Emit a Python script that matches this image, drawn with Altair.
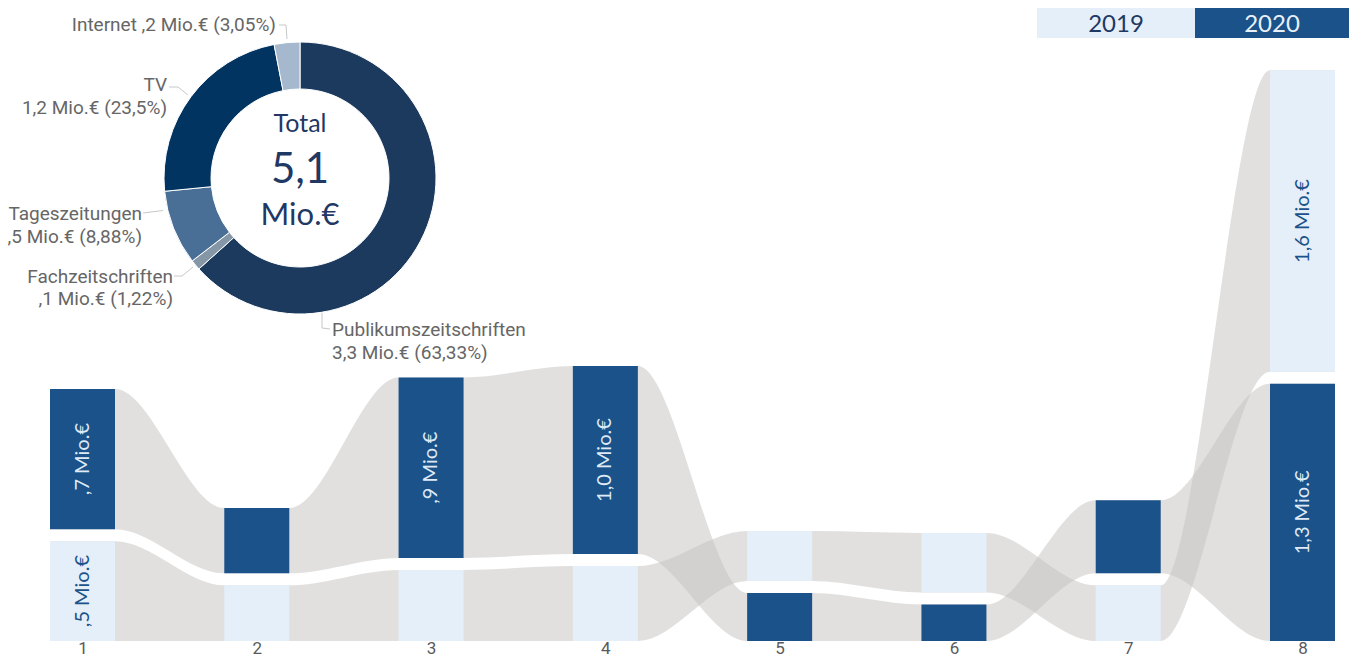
import json
import altair as alt
import pandas as pd

# ---------------- data ----------------
categories = ["1", "2", "3", "4", "5", "6", "7", "8"]
series = ["2019", "2020"]
values_2019 = [0.52, 0.29, 0.37, 0.39, 0.26, 0.31, 0.29, 1.57]
values_2020 = [0.73, 0.34, 0.94, 0.98, 0.25, 0.19, 0.38, 1.34]

media = ["Publikumszeitschriften", "Fachzeitschriften", "Tageszeitungen", "TV", "Internet"]
media_share = [63.33, 1.22, 8.88, 23.5, 3.05]   # percent
total_2020 = 5.14                               # Mio.€

# ---------------- styles / layout ----------------
LIGHT = "#e5eff9"
DARK = "#1a5289"
NAVY = "#1f3864"
RIBBON = "#c4c2c0"
GREY_TXT = "#666666"
AXIS_TXT = "#5a5a5a"
media_colors = ["#1c3a5e", "#8597a7", "#4a6f97", "#023462", "#a5b8cd"]

W, H = 1341, 633              # plot area (baseline at page y=641)
PX_PER_UNIT = 192.0
GAP = 12 / PX_PER_UNIT        # white gap between ribbons
STEP = 174.286                # px between category centres
X_FIRST = 74.5                # px of first category centre
BAR_HALF = 32.5 / STEP
x_lo = 1 - X_FIRST / STEP
x_hi = x_lo + W / STEP
y_hi = H / PX_PER_UNIT
LABEL_MIN = 0.45              # segments smaller than this get no label


def fmt_num(v, nd=1):
    s = f"{v:.{nd}f}".replace(".", ",")
    if s.startswith("0,"):
        s = s[1:]
    return s


def fmt_pct(p):
    s = f"{p:.2f}".rstrip("0").rstrip(".")
    return s.replace(".", ",") + "%"


# ---------------- ribbon stacking ----------------
seg_rows, rib_rows = [], []
vals = {"2019": values_2019, "2020": values_2020}
for i, cat in enumerate(categories):
    pos = i + 1
    order = sorted(series, key=lambda s: vals[s][i])   # smaller at bottom
    base = 0.0
    for s in order:
        v = vals[s][i]
        bot, top = base, base + v
        base = top + GAP
        seg_rows.append(dict(series=s, cat=cat, pos=pos, left=pos - BAR_HALF,
                             right=pos + BAR_HALF, bot=bot, top=top,
                             mid=(bot + top) / 2, value=v,
                             label=fmt_num(v) + " Mio.€"))
for s in series:
    for r in [r for r in seg_rows if r["series"] == s]:
        rib_rows.append(dict(series=s, x=r["left"], bot=r["bot"], top=r["top"]))
        rib_rows.append(dict(series=s, x=r["right"], bot=r["bot"], top=r["top"]))

seg_df = pd.DataFrame(seg_rows)
rib_df = pd.DataFrame(rib_rows)

xs = alt.Scale(domain=[x_lo, x_hi], nice=False, zero=False)
ys = alt.Scale(domain=[0, y_hi], nice=False, zero=False)

x_axis = alt.Axis(values=list(range(1, len(categories) + 1)),
                  labelExpr=json.dumps(categories) + "[datum.value - 1]",
                  domain=False, ticks=False, grid=False, title=None,
                  labelFont="Roboto", labelFontSize=17, labelColor=AXIS_TXT,
                  labelPadding=-1, labelFlush=False)

ribbons = alt.Chart(rib_df).mark_area(
    interpolate="monotone", color=RIBBON, opacity=0.5
).encode(
    x=alt.X("x:Q", scale=xs, axis=x_axis),
    y=alt.Y("bot:Q", scale=ys, axis=None),
    y2="top:Q",
    detail="series:N",
)

bars = alt.Chart(seg_df).mark_rect().encode(
    x=alt.X("left:Q", scale=xs),
    x2="right:Q",
    y=alt.Y("bot:Q", scale=ys),
    y2="top:Q",
    color=alt.Color("series:N", scale=alt.Scale(domain=series, range=[LIGHT, DARK]), legend=None),
)

lab19 = alt.Chart(seg_df).transform_filter(
    f"datum.series == '2019' && datum.value >= {LABEL_MIN}"
).mark_text(angle=270, font="Lato", fontSize=20, color=DARK).encode(
    x=alt.X("pos:Q", scale=xs), y=alt.Y("mid:Q", scale=ys), text="label:N")

lab20 = alt.Chart(seg_df).transform_filter(
    f"datum.series == '2020' && datum.value >= {LABEL_MIN}"
).mark_text(angle=270, font="Lato", fontSize=20, color="#dfeaf6").encode(
    x=alt.X("pos:Q", scale=xs), y=alt.Y("mid:Q", scale=ys), text="label:N")

# ---------------- donut ----------------
donut_df = pd.DataFrame(dict(media=media, share=media_share, idx=list(range(len(media)))))
CX, CY = 292, 170
donut = alt.Chart(donut_df).mark_arc(
    outerRadius=136, innerRadius=89, stroke="white", strokeWidth=1
).encode(
    theta=alt.Theta("share:Q", stack=True),
    color=alt.Color("media:N", scale=alt.Scale(domain=media, range=media_colors), legend=None),
    order=alt.Order("idx:Q"),
    x=alt.value(CX), y=alt.value(CY),
)

center_texts = [("Total", 116, 25), (fmt_num(total_2020), 162, 42), ("Mio.€", 208, 31)]
center_layers = [
    alt.Chart().mark_text(font="Lato", fontSize=fs, color=NAVY, align="center", baseline="middle")
    .encode(x=alt.value(CX), y=alt.value(yy), text=alt.value(t))
    for t, yy, fs in center_texts
]

label_layout = {
    "Internet": (268, 17, "right"),
    "TV": (159, 77, "right"),
    "Tageszeitungen": (134, 206, "right"),
    "Fachzeitschriften": (165, 268.5, "right"),
    "Publikumszeitschriften": (324, 322, "left"),
}
label_layers = []
for name, share in zip(media, media_share):
    amount = fmt_num(total_2020 * share / 100) + " Mio.€"
    detail = f"{amount} ({fmt_pct(share)})"
    txt = f"{name} {detail}" if name == "Internet" else f"{name}\n{detail}"
    lx, ly, al = label_layout[name]
    label_layers.append(
        alt.Chart().mark_text(font="Roboto", fontSize=19, color=GREY_TXT, align=al,
                              baseline="middle", lineBreak="\n", lineHeight=22.5)
        .encode(x=alt.value(lx), y=alt.value(ly), text=alt.value(txt))
    )

leader_segments = [
    (271, 17, 278, 17), (278, 17, 279, 31),
    (161, 79, 170, 79), (170, 79, 180, 87),
    (135, 205, 155, 202.5),
    (166, 268, 174, 268), (174, 268, 185, 259),
    (314, 305, 314, 320), (314, 320, 322, 321),
]
leader_layers = [
    alt.Chart().mark_rule(color="#c8c8c8", strokeWidth=1)
    .encode(x=alt.value(a), y=alt.value(b), x2=alt.value(c), y2=alt.value(d))
    for a, b, c, d in leader_segments
]

# ---------------- legend boxes ----------------
legend_layout = [("2019", 1029, 1187, LIGHT, NAVY), ("2020", 1187, 1341, DARK, "#e8f1fa")]
legend_layers = []
for yr, x0, x1, fill, tc in legend_layout:
    legend_layers.append(
        alt.Chart().mark_rect(color=fill)
        .encode(x=alt.value(x0), x2=alt.value(x1), y=alt.value(0), y2=alt.value(30)))
    legend_layers.append(
        alt.Chart().mark_text(font="Lato", fontSize=24, color=tc, align="center",
                              baseline="alphabetic")
        .encode(x=alt.value((x0 + x1) / 2), y=alt.value(24), text=alt.value(yr)))

chart = alt.layer(
    ribbons, bars, lab19, lab20, donut, *center_layers, *leader_layers,
    *label_layers, *legend_layers
).resolve_scale(color="independent").properties(
    width=W, height=H,
    autosize=alt.AutoSizeParams(type="none"),
    padding={"left": 0, "top": 0, "right": 0, "bottom": 18},
    background="white",
).configure_view(stroke="transparent")

chart.save("out.html", embed_options={"renderer": "svg", "actions": False})
